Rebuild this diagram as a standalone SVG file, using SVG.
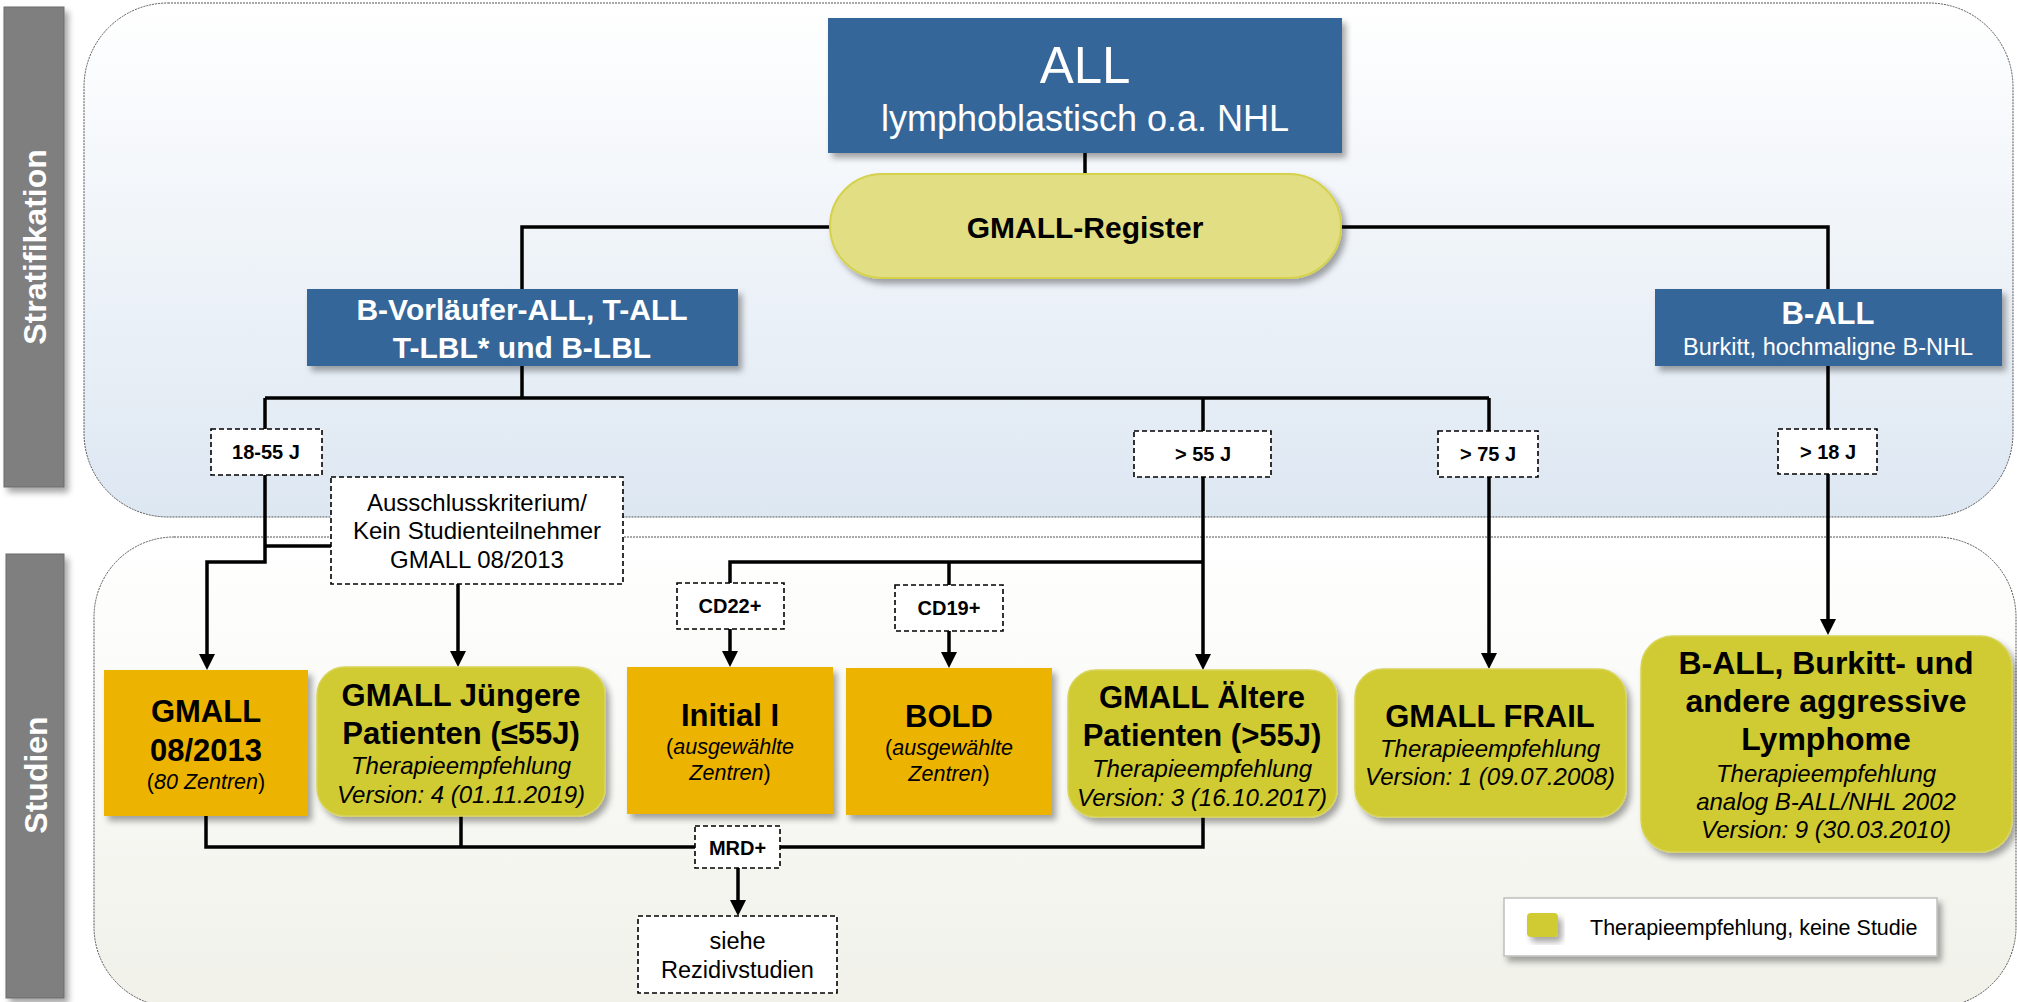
<svg xmlns="http://www.w3.org/2000/svg" width="2017" height="1002" viewBox="0 0 2017 1002">
<defs>
<linearGradient id="gTop" x1="0" y1="0" x2="0" y2="1"><stop offset="0" stop-color="#ffffff"/><stop offset="1" stop-color="#dde7f2"/></linearGradient>
<linearGradient id="gBot" x1="0" y1="0" x2="0" y2="1"><stop offset="0" stop-color="#ffffff"/><stop offset="1" stop-color="#f1f1ea"/></linearGradient>
<filter id="sh" x="-10%" y="-10%" width="130%" height="140%"><feDropShadow dx="4" dy="5" stdDeviation="3" flood-color="#000" flood-opacity="0.35"/></filter>
<marker id="ar" markerUnits="userSpaceOnUse" markerWidth="16" markerHeight="16" viewBox="0 0 16 16" refX="6" refY="8" orient="auto"><path d="M0,0 L16,8 L0,16 Z" fill="#000"/></marker>
<style>
text{font-family:"Liberation Sans",Arial,sans-serif;text-anchor:middle}
.panel{stroke:#555;stroke-width:1;stroke-dasharray:2,1}
.bar{fill:#7f7f7f;stroke:#6a6a6a;stroke-width:1}
.vt{fill:#fff;font-weight:bold;font-size:32px}
.blue{fill:#346699}
.wt{fill:#fff}
.b{font-weight:bold}
.or{fill:#ecb300}
.yg{fill:#d0cb33;stroke:#d8d45a;stroke-width:1.5}
.dash{fill:#fff;stroke:#000;stroke-width:1.6;stroke-dasharray:5,3}
.ln{fill:none;stroke:#000;stroke-width:3.5}
.t20{font-size:20px;font-weight:bold}
.t24{font-size:24px}
.t31{font-size:31px;font-weight:bold}
.it{font-style:italic}
</style>
</defs>

<g id="panels">
<rect class="panel" x="84" y="3" width="1929" height="514" rx="84" fill="url(#gTop)"/>
<rect class="panel" x="94" y="537" width="1922" height="470" rx="80" fill="url(#gBot)"/>
<rect class="bar" x="4" y="7" width="60" height="480" filter="url(#sh)"/>
<text class="vt" transform="translate(46,247) rotate(-90)">Stratifikation</text>
<rect class="bar" x="6" y="554" width="58" height="444" filter="url(#sh)"/>
<text class="vt" transform="translate(47,775) rotate(-90)">Studien</text>
</g>

<g id="connectors">
<path class="ln" d="M1085,153 V174"/>
<path class="ln" d="M830,227 H522 V289"/>
<path class="ln" d="M1341,227 H1828 V289"/>
<path class="ln" d="M522,366 V398"/>
<path class="ln" d="M265,398 H1489"/>
<path class="ln" d="M265,398 V429"/>
<path class="ln" d="M1203,398 V431"/>
<path class="ln" d="M1489,398 V431"/>
<path class="ln" d="M1828,366 V429"/>
<path class="ln" d="M1828,474 V625" marker-end="url(#ar)"/>
<path class="ln" d="M1489,477 V659" marker-end="url(#ar)"/>
<path class="ln" d="M265,475 V562 H207 V660" marker-end="url(#ar)"/>
<path class="ln" d="M265,546 H331"/>
<path class="ln" d="M458,584 V657" marker-end="url(#ar)"/>
<path class="ln" d="M1203,477 V660" marker-end="url(#ar)"/>
<path class="ln" d="M1203,562 H730 V583"/>
<path class="ln" d="M949,562 V585"/>
<path class="ln" d="M730,629 V657" marker-end="url(#ar)"/>
<path class="ln" d="M949,631 V658" marker-end="url(#ar)"/>
<path class="ln" d="M206,816 V847 H1203 V817"/>
<path class="ln" d="M461,816 V847"/>
<path class="ln" d="M738,868 V906" marker-end="url(#ar)"/>
</g>

<g id="n-all">
<rect class="blue" x="828" y="18" width="514" height="135" filter="url(#sh)"/>
<text class="wt" x="1085" y="83" font-size="51">ALL</text>
<text class="wt" x="1085" y="131" font-size="36">lymphoblastisch o.a. NHL</text>
</g>

<g id="n-register">
<rect x="830" y="174" width="511" height="104" rx="52" fill="#e1de84" stroke="#d5d14c" stroke-width="2" filter="url(#sh)"/>
<text class="b" x="1085" y="238" font-size="30">GMALL-Register</text>
</g>

<g id="n-bvorl">
<rect class="blue" x="307" y="289" width="431" height="77" filter="url(#sh)"/>
<text class="wt b" x="522" y="320" font-size="30">B-Vorläufer-ALL, T-ALL</text>
<text class="wt b" x="522" y="358" font-size="30">T-LBL* und B-LBL</text>
</g>

<g id="n-ball">
<rect class="blue" x="1655" y="289" width="347" height="77" filter="url(#sh)"/>
<text class="wt b" x="1828" y="324" font-size="31">B-ALL</text>
<text class="wt" x="1828" y="355" font-size="23.5">Burkitt, hochmaligne B-NHL</text>
</g>

<g id="n-1855">
<rect class="dash" x="211" y="429" width="111" height="46"/>
<text class="t20" x="266" y="459">18-55 J</text>
</g>
<g id="n-55">
<rect class="dash" x="1134" y="431" width="137" height="46"/>
<text class="t20" x="1203" y="461">&gt; 55 J</text>
</g>
<g id="n-75">
<rect class="dash" x="1438" y="431" width="100" height="46"/>
<text class="t20" x="1488" y="461">&gt; 75 J</text>
</g>
<g id="n-18">
<rect class="dash" x="1778" y="429" width="99" height="45"/>
<text class="t20" x="1828" y="459">&gt; 18 J</text>
</g>

<g id="n-aussch">
<rect class="dash" x="331" y="477" width="292" height="107"/>
<text class="t24" x="477" y="511">Ausschlusskriterium/</text>
<text class="t24" x="477" y="539">Kein Studienteilnehmer</text>
<text class="t24" x="477" y="568">GMALL 08/2013</text>
</g>

<g id="n-cd22">
<rect class="dash" x="677" y="583" width="107" height="46"/>
<text class="t20" x="730" y="613">CD22+</text>
</g>
<g id="n-cd19">
<rect class="dash" x="895" y="585" width="108" height="46"/>
<text class="t20" x="949" y="615">CD19+</text>
</g>

<g id="n-gmall0813">
<rect class="or" x="104" y="670" width="204" height="146" filter="url(#sh)"/>
<text class="t31" x="206" y="722">GMALL</text>
<text class="t31" x="206" y="761">08/2013</text>
<text x="206" y="789" font-size="21.5">(<tspan class="it">80 Zentren</tspan>)</text>
</g>

<g id="n-juengere">
<rect class="yg" x="317" y="667" width="288" height="149" rx="28" filter="url(#sh)"/>
<text class="t31" x="461" y="706">GMALL Jüngere</text>
<text class="t31" x="461" y="744">Patienten (≤55J)</text>
<text class="t24 it" x="461" y="774">Therapieempfehlung</text>
<text class="t24 it" x="461" y="803">Version: 4 (01.11.2019)</text>
</g>

<g id="n-initial">
<rect class="or" x="627" y="667" width="206" height="147" filter="url(#sh)"/>
<text class="t31" x="730" y="726">Initial I</text>
<text x="730" y="754" font-size="21.5">(<tspan class="it">ausgewählte</tspan></text>
<text x="730" y="780" font-size="21.5"><tspan class="it">Zentren</tspan>)</text>
</g>

<g id="n-bold">
<rect class="or" x="846" y="668" width="206" height="147" filter="url(#sh)"/>
<text class="t31" x="949" y="727">BOLD</text>
<text x="949" y="755" font-size="21.5">(<tspan class="it">ausgewählte</tspan></text>
<text x="949" y="781" font-size="21.5"><tspan class="it">Zentren</tspan>)</text>
</g>

<g id="n-aeltere">
<rect class="yg" x="1068" y="670" width="269" height="147" rx="28" filter="url(#sh)"/>
<text class="t31" x="1202" y="708">GMALL Ältere</text>
<text class="t31" x="1202" y="746">Patienten (&gt;55J)</text>
<text class="t24 it" x="1202" y="777">Therapieempfehlung</text>
<text class="t24 it" x="1202" y="806">Version: 3 (16.10.2017)</text>
</g>

<g id="n-frail">
<rect class="yg" x="1355" y="669" width="271" height="148" rx="28" filter="url(#sh)"/>
<text class="t31" x="1490" y="727">GMALL FRAIL</text>
<text class="t24 it" x="1490" y="757">Therapieempfehlung</text>
<text class="t24 it" x="1490" y="785">Version: 1 (09.07.2008)</text>
</g>

<g id="n-burkitt">
<rect class="yg" x="1641" y="636" width="371" height="216" rx="32" filter="url(#sh)"/>
<text class="b" x="1826" y="674" font-size="32">B-ALL, Burkitt- und</text>
<text class="b" x="1826" y="712" font-size="32">andere aggressive</text>
<text class="b" x="1826" y="750" font-size="32">Lymphome</text>
<text class="t24 it" x="1826" y="782">Therapieempfehlung</text>
<text class="t24 it" x="1826" y="810">analog B-ALL/NHL 2002</text>
<text class="t24 it" x="1826" y="838">Version: 9 (30.03.2010)</text>
</g>

<g id="n-mrd">
<rect class="dash" x="695" y="826" width="85" height="42"/>
<text class="t20" x="737.5" y="855">MRD+</text>
</g>

<g id="n-siehe">
<rect class="dash" x="638" y="916" width="199" height="77"/>
<text x="737.5" y="949" font-size="23.5">siehe</text>
<text x="737.5" y="978" font-size="23.5">Rezidivstudien</text>
</g>

<g id="legend">
<rect x="1504" y="898" width="433" height="58" fill="#fff" stroke="#bfbfbf" stroke-width="1.5" filter="url(#sh)"/>
<rect x="1527" y="913" width="31" height="24" rx="4" fill="#d0cb33" filter="url(#sh)"/>
<text x="1590" y="935" font-size="21.5" style="text-anchor:start">Therapieempfehlung, keine Studie</text>
</g>
</svg>
